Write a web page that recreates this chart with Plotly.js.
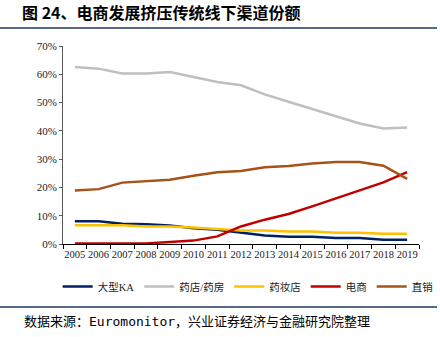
<!DOCTYPE html>
<html><head><meta charset="utf-8">
<script src="https://cdn.plot.ly/plotly-3.0.1.min.js"></script>
<style>html,body{margin:0;padding:0;background:#fff;}#chart{width:440px;height:337px;}</style>
</head><body><div id="chart"></div>
<script>
const years = ['2005','2006','2007','2008','2009','2010','2011','2012','2013','2014','2015','2016','2017','2018','2019'];
const seriesNames = ['大型KA','药店/药房','药妆店','电商','直销'];
const ka       = [8.0, 8.0, 7.2, 7.0, 6.5, 5.6, 5.0, 3.9, 3.0, 2.6, 2.6, 2.1, 2.1, 1.5, 1.5];
const pharmacy = [62.6, 62.0, 60.3, 60.3, 60.8, 59.1, 57.3, 56.1, 52.9, 50.3, 47.7, 45.0, 42.6, 40.8, 41.2];
const drugstore= [6.6, 6.6, 6.6, 6.2, 6.2, 5.8, 5.3, 4.8, 4.8, 4.4, 4.4, 4.0, 4.0, 3.6, 3.6];
const ecommerce= [0.2, 0.2, 0.2, 0.2, 0.7, 1.2, 2.7, 6.2, 8.6, 10.6, 13.3, 16.2, 19.1, 21.8, 25.4];
const direct   = [18.9, 19.4, 21.7, 22.2, 22.7, 24.1, 25.4, 25.8, 27.1, 27.6, 28.5, 29.0, 29.0, 27.7, 23.0];
const yTicks = [0,10,20,30,40,50,60,70];
const yTickText = yTicks.map(v => v + '%');

const values = [ka, pharmacy, drugstore, ecommerce, direct];
const colors = ['#002060','#BFBFBF','#FFC000','#C00000','#A5521B'];

const traces = values.map((v,i)=>({
  x: years, y: v, name: seriesNames[i], type:'scatter', mode:'lines',
  line:{color:colors[i], width:2.5}
}));

const layout = {
  width:440, height:337,
  margin:{l:63, r:21, t:46, b:93, autoexpand:false},
  paper_bgcolor:'#fff', plot_bgcolor:'#fff',
  showlegend:true,
  title:{text:'图 24、电商发展挤压传统线下渠道份额', x:22/440, xanchor:'left', xref:'container',
    y:1-13/337, yanchor:'middle', yref:'container',
    font:{family:'"Noto Sans CJK SC", sans-serif', size:16, color:'#000', weight:'bold'}},
  xaxis:{type:'category', range:[-0.5,14.5], showgrid:false, zeroline:false,
    showline:true, linecolor:'#000', linewidth:1, tickangle:0, automargin:false,
    ticks:'outside', tickson:'boundaries', ticklen:4, tickcolor:'#000',
    tickfont:{family:'"Liberation Serif", serif', size:10.5, color:'#222'}},
  yaxis:{range:[0,70], tickmode:'array', tickvals:yTicks, ticktext:yTickText, showgrid:false, zeroline:false,
    showline:true, linecolor:'#595959', linewidth:1, automargin:false,
    ticks:'outside', ticklen:3, tickcolor:'#595959',
    tickfont:{family:'"Liberation Serif", serif', size:11, color:'#222'}},
  legend:{orientation:'h', x:-0.015, xanchor:'left', y:-0.215, yanchor:'middle',
    itemwidth:30, tracegroupgap:0,
    font:{family:'"Liberation Serif", "Noto Sans CJK SC", serif', size:10.5, color:'#222'}},
  shapes:[
    {type:'line', xref:'paper', yref:'paper', x0:-63/356, x1:374/356, y0:(244-28)/198, y1:(244-28)/198,
      line:{color:'#1F3864', width:1.5}},
    {type:'line', xref:'paper', yref:'paper', x0:-63/356, x1:374/356, y0:(244-307)/198, y1:(244-307)/198,
      line:{color:'#1F3864', width:1.5}}
  ],
  annotations:[
    {text:'数据来源：Euromonitor，兴业证券经济与金融研究院整理', xref:'paper', yref:'paper',
      x:(22-63)/356, xanchor:'left', y:(244-321)/198, yanchor:'middle', showarrow:false,
      font:{family:'"DejaVu Sans Mono", "Noto Sans CJK SC", monospace', size:13, color:'#000'}}
  ]
};
Plotly.newPlot('chart', traces, layout, {staticPlot:true, displayModeBar:false});
</script></body></html>
